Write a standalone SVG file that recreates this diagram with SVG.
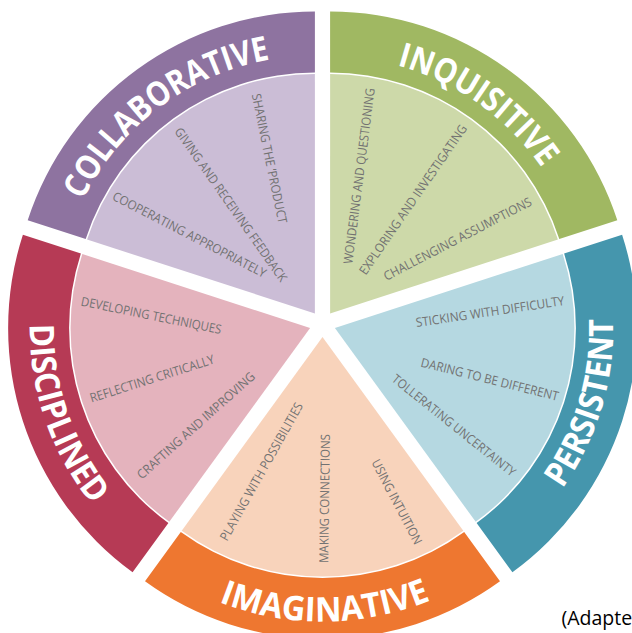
<svg xmlns="http://www.w3.org/2000/svg" width="632" height="633" viewBox="0 0 632 633">
<defs>
<style>
.title{font-family:"Open Sans","Noto Sans","Liberation Sans",sans-serif;font-weight:700;font-size:34px;fill:#ffffff}
.item{font-family:"Open Sans","Noto Sans","Liberation Sans",sans-serif;font-size:12.6px;fill:#727272}
</style>
<path id="arcCol" d="M69.5,233.8 A258,258 0 0 1 305.9,55.7"/>
<path id="arcInq" d="M331.4,56.5 A257,257 0 0 1 572.0,226.9"/>
<path id="arcPer" d="M507.5,546.6 A278.5,278.5 0 0 0 599.3,240.6"/>
<path id="arcIma" d="M161.4,571.5 A284.5,284.5 0 0 0 487.7,568.6"/>
<path id="arcDis" d="M40.3,251.4 A280.5,280.5 0 0 0 145.8,555.4"/>
</defs>
<rect width="632" height="633" fill="#ffffff"/>

<g id="collaborative">
<path d="M314.9,313.5 L314.9,74.0 A239.5,239.5 0 0 0 87.1,239.5 Z" fill="#CBBDD6"/>
<path d="M314.9,11.5 A302,302 0 0 0 27.7,220.2 L85.7,239.0 A241,241 0 0 1 314.9,72.5 Z" fill="#8E73A0"/>
<text class="title"><textPath href="#arcCol" startOffset="50%" text-anchor="middle" textLength="243" lengthAdjust="spacingAndGlyphs">COLLABORATIVE</textPath></text>
<text class="item" transform="translate(269.5,158.5) rotate(78.3)" text-anchor="middle" dy="0.36em" textLength="132" lengthAdjust="spacingAndGlyphs">SHARING THE ‘PRODUCT</text>
<text class="item" transform="translate(231,204.5) rotate(54.9)" text-anchor="middle" dy="0.36em" textLength="185" lengthAdjust="spacingAndGlyphs">GIVING AND RECEIVING FEEDBACK</text>
<text class="item" transform="translate(189.5,234.5) rotate(27.4)" text-anchor="middle" dy="0.36em" textLength="171" lengthAdjust="spacingAndGlyphs">COOPERATING APPROPRIATELY</text>
</g>

<g id="inquisitive">
<path d="M330.1,313.5 L557.9,239.5 A239.5,239.5 0 0 0 330.1,74.0 Z" fill="#CDD9A9"/>
<path d="M617.3,220.2 A302,302 0 0 0 330.1,11.5 L330.1,72.5 A241,241 0 0 1 559.3,239.0 Z" fill="#A0B862"/>
<text class="title"><textPath href="#arcInq" startOffset="50%" text-anchor="middle" textLength="181" lengthAdjust="spacingAndGlyphs">INQUISITIVE</textPath></text>
<text class="item" transform="translate(359,176) rotate(-82.7)" text-anchor="middle" dy="0.36em" textLength="177" lengthAdjust="spacingAndGlyphs">WONDERING AND QUESTIONING</text>
<text class="item" transform="translate(413,199.5) rotate(-55.3)" text-anchor="middle" dy="0.36em" textLength="179" lengthAdjust="spacingAndGlyphs">EXPLORING AND INVESTIGATING</text>
<text class="item" transform="translate(457.5,238.75) rotate(-27.5)" text-anchor="middle" dy="0.36em" textLength="165" lengthAdjust="spacingAndGlyphs">CHALLENGING ASSUMPTIONS</text>
</g>

<g id="persistent">
<path d="M334.9,328 L475.7,521.8 A239.5,239.5 0 0 0 562.7,254.0 Z" fill="#B5D8E1"/>
<path d="M622.1,234.7 A302,302 0 0 1 512.4,572.3 L476.6,523.0 A241,241 0 0 0 564.1,253.5 Z" fill="#4596AD"/>
<text class="title"><textPath href="#arcPer" startOffset="50%" text-anchor="middle" textLength="180" lengthAdjust="spacingAndGlyphs">PERSISTENT</textPath></text>
<text class="item" transform="translate(490,311.5) rotate(-8.5)" text-anchor="middle" dy="0.36em" textLength="150" lengthAdjust="spacingAndGlyphs">STICKING WITH DIFFICULTY</text>
<text class="item" transform="translate(489.75,379.2) rotate(14)" text-anchor="middle" dy="0.36em" textLength="141.5" lengthAdjust="spacingAndGlyphs">DARING TO BE DIFFERENT</text>
<text class="item" transform="translate(454,425.25) rotate(38.75)" text-anchor="middle" dy="0.36em" textLength="154" lengthAdjust="spacingAndGlyphs">TOLLERATING UNCERTAINTY</text>
</g>

<g id="imaginative">
<path d="M322.5,337 L181.7,530.8 A239.5,239.5 0 0 0 463.3,530.8 Z" fill="#F8D3BB"/>
<path d="M145.0,581.3 A302,302 0 0 0 500.0,581.3 L464.2,532.0 A241,241 0 0 1 180.8,532.0 Z" fill="#EE7730"/>
<text class="title"><textPath href="#arcIma" startOffset="50%" text-anchor="middle" textLength="217" lengthAdjust="spacingAndGlyphs">IMAGINATIVE</textPath></text>
<text class="item" transform="translate(261.25,471.5) rotate(-60.7)" text-anchor="middle" dy="0.36em" textLength="156" lengthAdjust="spacingAndGlyphs">PLAYING WITH POSSIBILITIES</text>
<text class="item" transform="translate(324.5,498.5) rotate(-89.2)" text-anchor="middle" dy="0.36em" textLength="129" lengthAdjust="spacingAndGlyphs">MAKING CONNECTIONS</text>
<text class="item" transform="translate(397,501.85) rotate(62.3)" text-anchor="middle" dy="0.36em" textLength="94" lengthAdjust="spacingAndGlyphs">USING INTUITION</text>
</g>

<g id="disciplined">
<path d="M310.1,328 L82.3,254.0 A239.5,239.5 0 0 0 169.3,521.8 Z" fill="#E4B3BD"/>
<path d="M22.9,234.7 A302,302 0 0 0 132.6,572.3 L168.4,523.0 A241,241 0 0 1 80.9,253.5 Z" fill="#B63A55"/>
<text class="title"><textPath href="#arcDis" startOffset="50%" text-anchor="middle" textLength="195" lengthAdjust="spacingAndGlyphs">DISCIPLINED</textPath></text>
<text class="item" transform="translate(151.25,315.2) rotate(11.5)" text-anchor="middle" dy="0.36em" textLength="143" lengthAdjust="spacingAndGlyphs">DEVELOPING TECHNIQUES</text>
<text class="item" transform="translate(152,378.5) rotate(-17.7)" text-anchor="middle" dy="0.36em" textLength="130" lengthAdjust="spacingAndGlyphs">REFLECTING CRITICALLY</text>
<text class="item" transform="translate(195.85,425.35) rotate(-41.8)" text-anchor="middle" dy="0.36em" textLength="153" lengthAdjust="spacingAndGlyphs">CRAFTING AND IMPROVING</text>
</g>

<g id="connectors"></g>

<text x="561.5" y="624.5" font-family="'Open Sans','Noto Sans',sans-serif" font-size="19.5" fill="#000000">(Adapte</text>
</svg>
